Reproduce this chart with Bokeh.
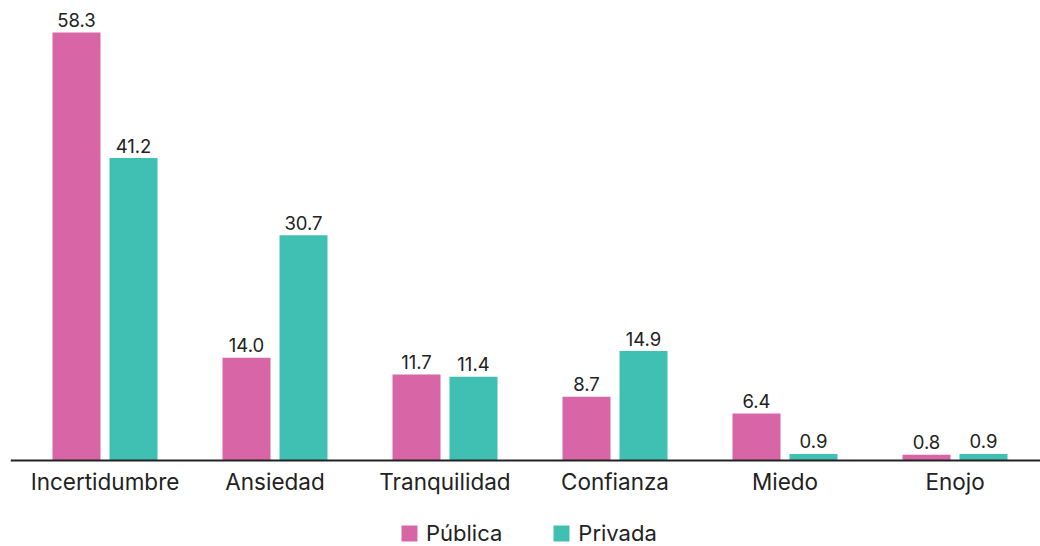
from bokeh.plotting import figure
from bokeh.models import ColumnDataSource, Range1d, FixedTicker, Legend, LegendItem
from bokeh.embed import file_html
from bokeh.resources import INLINE
from bokeh.core.properties import value

categories = ["Incertidumbre", "Ansiedad", "Tranquilidad", "Confianza", "Miedo", "Enojo"]
publica = [58.3, 14.0, 11.7, 8.7, 6.4, 0.8]
privada = [41.2, 30.7, 11.4, 14.9, 0.9, 0.9]
series_names = ["Pública", "Privada"]

PINK = "#D866A6"
TEAL = "#40C0B3"
INK = "#222222"
FONT = "Inter"

W, H = 1040, 546
frame_left = 10
frame_w = W - frame_left
group_px = 170.0
first_center_px = 94.5
bar_px = 48.0
half_gap_px = 28.5
px_per_unit = 7.341
baseline_px = 460          # distance of the zero line from the top
x0 = -first_center_px / group_px
x1 = (frame_w - first_center_px) / group_px
bw = bar_px / group_px
off = half_gap_px / group_px
y_top = baseline_px / px_per_unit
y_bot = -(H - baseline_px) / px_per_unit

idx = list(range(len(categories)))
src_pub = ColumnDataSource(dict(
    x=[i - off for i in idx], top=publica,
    label=[f"{v:.1f}" for v in publica]))
src_priv = ColumnDataSource(dict(
    x=[i + off for i in idx], top=privada,
    label=[f"{v:.1f}" for v in privada]))

p = figure(frame_width=frame_w, frame_height=H,
           output_backend="svg", toolbar_location=None,
           x_range=Range1d(x0, x1), y_range=Range1d(y_bot, y_top),
           min_border_left=frame_left, min_border_right=0,
           min_border_top=0, min_border_bottom=0)
p.outline_line_color = None
p.grid.visible = False
p.yaxis.visible = False

r_pub = p.vbar(x="x", top="top", width=bw, bottom=0, source=src_pub,
               fill_color=PINK, line_color=None)
r_priv = p.vbar(x="x", top="top", width=bw, bottom=0, source=src_priv,
                fill_color=TEAL, line_color=None)

for s in (src_pub, src_priv):
    p.text(x="x", y="top", text="label", source=s, text_align="center",
           text_baseline="alphabetic", y_offset=-12.5,
           text_font=value(FONT), text_font_size="18.5px", text_color=INK)

# category axis drawn on the zero line
ax = p.xaxis[0]
ax.fixed_location = 0
ax.ticker = FixedTicker(ticks=idx)
ax.major_label_overrides = {i: c for i, c in zip(idx, categories)}
ax.axis_line_color = INK
ax.axis_line_width = 2
ax.major_tick_line_color = None
ax.minor_tick_line_color = None
ax.major_label_standoff = 1
ax.major_label_text_font = FONT
ax.major_label_text_font_size = "22.5px"
ax.major_label_text_color = INK

legend = Legend(items=[LegendItem(label=series_names[0], renderers=[r_pub]),
                       LegendItem(label=series_names[1], renderers=[r_priv])],
                orientation="horizontal", location=(389, 0),
                glyph_width=20, glyph_height=20, label_standoff=7,
                spacing=49, padding=0, margin=0,
                label_text_font=FONT, label_text_font_size="22px",
                label_text_color=INK, border_line_color=None,
                background_fill_alpha=0)
p.add_layout(legend, "center")

open("out.html", "w").write(file_html(p, INLINE))
